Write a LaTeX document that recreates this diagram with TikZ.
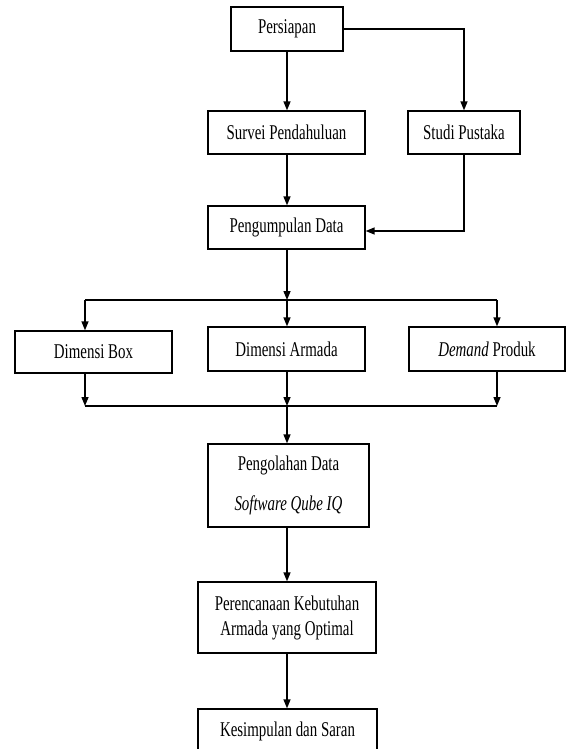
\documentclass[tikz,border=0pt]{standalone}
\usepackage{fontspec}
\setmainfont{Liberation Serif}[FakeStretch=0.71]
\usetikzlibrary{arrows.meta}
\begin{document}
\begin{tikzpicture}[x=1pt,y=-1pt,
  flowbox/.style={draw=black, line width=1.3pt, inner sep=0pt, align=center,
    font=\fontsize{21}{25}\selectfont},
  flowarrow/.style={line width=1.4pt, -{Triangle[length=9pt,width=7pt]}},
  flowline/.style={line width=1.4pt}]
\useasboundingbox (0,0) rectangle (566,749);
\clip (0,0) rectangle (566,749);
% nodes
\node[flowbox, minimum width=112pt, minimum height=44pt] (pers) at (287,29) {Persiapan};
\node[flowbox, minimum width=157pt, minimum height=43pt] (surv) at (286.5,132.5) {Survei Pendahuluan};
\node[flowbox, minimum width=112pt, minimum height=43pt] (stud) at (464,132.5) {Studi Pustaka};
\node[flowbox, minimum width=157pt, minimum height=43pt] (peng) at (286.5,227.5) {Pengumpulan Data};
\node[flowbox, minimum width=157pt, minimum height=42pt] (dbox) at (93.5,352) {Dimensi Box};
\node[flowbox, minimum width=157pt, minimum height=44pt] (arm) at (286.5,349) {Dimensi Armada};
\node[flowbox, minimum width=156pt, minimum height=44pt] (dem) at (487,349) {\textit{Demand} Produk};
\node[flowbox, minimum width=161pt, minimum height=83pt] (olah) at (288.5,485.5) {Pengolahan Data\\[15pt]\textit{Software Qube IQ}};
\node[flowbox, minimum width=178pt, minimum height=71pt] (renc) at (287,617.5) {Perencanaan Kebutuhan\\Armada yang Optimal};
\node[flowbox, minimum width=179pt, minimum height=45pt] (kes) at (287.5,731.5) {Kesimpulan dan Saran};
% junction coordinates
\coordinate (split) at (287,300);
\coordinate (splitL) at (85,300);
\coordinate (splitR) at (497,300);
\coordinate (merge) at (287,406);
\coordinate (mergeL) at (85,406);
\coordinate (mergeR) at (497,406);
% connectors
\draw[flowarrow] (pers.south -| split) -- (split |- surv.north);
\draw[flowarrow] (pers.east) -| (stud.north);
\draw[flowarrow] (split |- surv.south) -- (split |- peng.north);
\draw[flowarrow] (stud.south) |- ([yshift=-3.5pt]peng.east);
\draw[flowarrow] (peng.south -| split) -- (split);
\draw[flowline] (splitL) -- (splitR);
\draw[flowarrow] (split) -- (split |- arm.north);
\draw[flowarrow] (splitL) -- (splitL |- dbox.north);
\draw[flowarrow] (splitR) -- (splitR |- dem.north);
\draw[flowarrow] (mergeL |- dbox.south) -- (mergeL);
\draw[flowarrow] (merge |- arm.south) -- (merge);
\draw[flowarrow] (mergeR |- dem.south) -- (mergeR);
\draw[flowline] (mergeL) -- (mergeR);
\draw[flowarrow] (merge) -- (merge |- olah.north);
\draw[flowarrow] (merge |- olah.south) -- (merge |- renc.north);
\draw[flowarrow] (merge |- renc.south) -- (merge |- kes.north);
\end{tikzpicture}
\end{document}
